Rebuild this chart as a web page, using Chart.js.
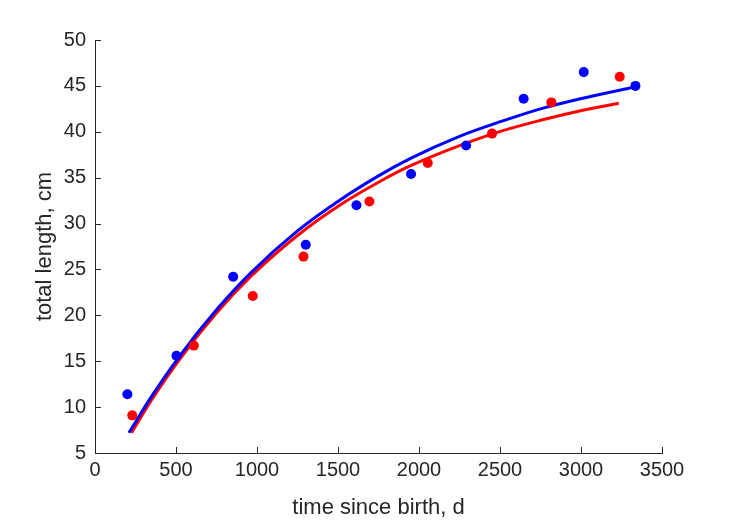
<!DOCTYPE html>
<html>
<head>
<meta charset="utf-8">
<script src="https://cdn.jsdelivr.net/npm/chart.js@4"></script>
<style>
  html, body { margin: 0; padding: 0; background: #fff; }
  canvas { display: block; }
</style>
</head>
<body>
<canvas id="growth" width="729" height="521"></canvas>
<script>
// observed lengths, two fish
const blueAgeDays = [200, 503, 853, 1301, 1614, 1951, 2291, 2646, 3017, 3336];
const blueLengthCm = [11.4, 15.6, 24.2, 27.7, 32.0, 35.4, 38.5, 43.6, 46.5, 45.0];
const redAgeDays = [230, 610, 974, 1287, 1694, 2054, 2451, 2817, 3239];
const redLengthCm = [9.1, 16.7, 22.1, 26.4, 32.4, 36.6, 39.8, 43.2, 46.0];

// fitted growth curves
const blueFitDays = [209, 350, 528, 750, 960, 1250, 1515, 1750, 1948, 2250, 2503, 2750, 2997, 3336];
const blueFitCm = [7.2, 11.2, 15.7, 20.6, 24.6, 29.2, 32.6, 35.2, 37.1, 39.5, 41.1, 42.5, 43.6, 44.9];
const redFitDays = [225, 350, 528, 750, 960, 1250, 1515, 1750, 1948, 2250, 2503, 2750, 2997, 3233];
const redFitCm = [7.2, 10.8, 15.35, 20.25, 24.2, 28.7, 32.05, 34.5, 36.3, 38.5, 40.05, 41.25, 42.3, 43.1];

const xTicks = [0, 500, 1000, 1500, 2000, 2500, 3000, 3500];
const yTicks = [5, 10, 15, 20, 25, 30, 35, 40, 45, 50];

const toPoints = (xs, ys) => xs.map((x, i) => ({ x: x, y: ys[i] }));

const axisColor = '#262626';
const fontFamily = '"Liberation Sans", Arial, Helvetica, sans-serif';

// matlab style ticks pointing into the axes
const innerTicks = {
  id: 'innerTicks',
  afterDraw(chart) {
    const ctx = chart.ctx;
    const xs = chart.scales.x;
    const ys = chart.scales.y;
    const len = 6;
    ctx.save();
    ctx.strokeStyle = axisColor;
    ctx.lineWidth = 1;
    ctx.beginPath();
    xTicks.forEach((v) => {
      const px = Math.round(xs.getPixelForValue(v)) + 0.5;
      ctx.moveTo(px, ys.bottom);
      ctx.lineTo(px, ys.bottom - len);
    });
    yTicks.forEach((v) => {
      const py = Math.round(ys.getPixelForValue(v)) + 0.5;
      ctx.moveTo(xs.left, py);
      ctx.lineTo(xs.left + len, py);
    });
    ctx.stroke();
    ctx.restore();
  },
};

new Chart(document.getElementById('growth'), {
  type: 'scatter',
  plugins: [innerTicks],
  data: {
    datasets: [
      {
        data: toPoints(blueAgeDays, blueLengthCm),
        backgroundColor: '#0000ff',
        borderWidth: 0,
        pointRadius: 5,
      },
      {
        data: toPoints(redAgeDays, redLengthCm),
        backgroundColor: '#ff0000',
        borderWidth: 0,
        pointRadius: 5,
      },
      {
        data: toPoints(blueFitDays, blueFitCm),
        showLine: true,
        borderColor: '#0000ff',
        borderWidth: 3,
        pointRadius: 0,
        cubicInterpolationMode: 'monotone',
      },
      {
        data: toPoints(redFitDays, redFitCm),
        showLine: true,
        borderColor: '#ff0000',
        borderWidth: 3,
        pointRadius: 0,
        cubicInterpolationMode: 'monotone',
      },
    ],
  },
  options: {
    responsive: false,
    animation: false,
    events: [],
    layout: { padding: { left: 0, top: 40, right: 67, bottom: 0 } },
    plugins: {
      legend: { display: false },
      tooltip: { enabled: false },
    },
    scales: {
      x: {
        type: 'linear',
        min: 0,
        max: 3500,
        afterBuildTicks: (scale) => {
          scale.ticks = xTicks.map((v) => ({ value: v }));
        },
        afterFit: (scale) => {
          scale.height = 68;
        },
        grid: { display: false, drawTicks: false },
        border: { display: true, color: axisColor, width: 1 },
        ticks: {
          color: axisColor,
          padding: 5,
          maxRotation: 0,
          autoSkip: false,
          callback: (v) => String(v),
          font: { family: fontFamily, size: 20 },
        },
        title: {
          display: true,
          text: 'time since birth, d',
          color: axisColor,
          padding: 0,
          font: { family: fontFamily, size: 22 },
        },
      },
      y: {
        type: 'linear',
        min: 5,
        max: 50,
        afterBuildTicks: (scale) => {
          scale.ticks = yTicks.map((v) => ({ value: v }));
        },
        afterFit: (scale) => {
          scale.width = 95;
        },
        grid: { display: false, drawTicks: false },
        border: { display: true, color: axisColor, width: 1 },
        ticks: {
          color: axisColor,
          padding: 9,
          autoSkip: false,
          callback: (v) => String(v),
          font: { family: fontFamily, size: 20 },
        },
        title: {
          display: true,
          text: 'total length, cm',
          color: axisColor,
          padding: { top: 32, bottom: 0 },
          font: { family: fontFamily, size: 22 },
        },
      },
    },
  },
});
</script>
</body>
</html>
